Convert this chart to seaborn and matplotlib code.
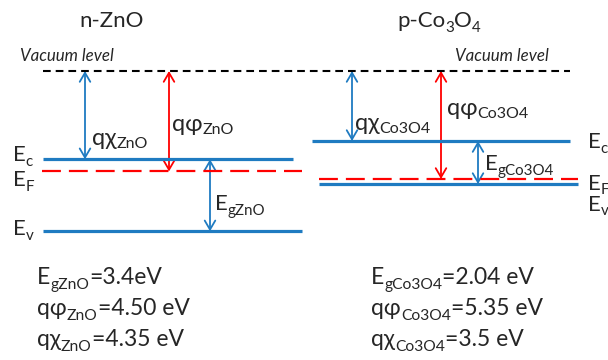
import matplotlib
matplotlib.use("Agg")
import matplotlib.pyplot as plt
import matplotlib.transforms as mtransforms
from matplotlib.patches import FancyArrowPatch
import seaborn as sns
import pandas as pd

# ---------------- data ----------------
materials = ["n-ZnO", "p-Co3O4"]
# schematic level energies relative to vacuum level (eV)
zno_levels = {"Ec": -4.35, "EF": -4.95, "Ev": -7.9}
co_levels = {"Ec": -3.45, "EF": -5.32, "Ev": -5.57}
vacuum = 0.0
# tabulated values
zno_values = ["3.4eV", "4.50 eV", "4.35 eV"]
co_values = ["2.04 eV", "5.35 eV", "3.5 eV"]

# ---------------- style ----------------
sns.set_theme(style="white")
FAM = ["Lato", "DejaVu Sans"]
plt.rcParams["font.family"] = FAM
BLUE = "#1f7bc1"
RED = "#ff0000"

PX = 20.3  # px per eV
fig = plt.figure(figsize=(6.08, 3.6), dpi=100)
ax = fig.add_axes([0, 0, 1, 1])
ax.set_xlim(0, 608)
ax.set_ylim(-(360 - 71) / PX, 71 / PX)
ax.axis("off")
renderer = fig.canvas.get_renderer()


def y_of(px):
    """convert reference pixel row to energy (for text layout only)"""
    return (71 - px) / PX


def level(x0, x1, e, color, lw, dashes=None):
    df = pd.DataFrame({"x": [x0, x1], "E": [e, e]})
    sns.lineplot(data=df, x="x", y="E", ax=ax, color=color, lw=lw,
                 estimator=None, sort=False)
    ln = ax.lines[-1]
    if dashes is not None:
        ln.set_dashes(dashes)
    ln.set_solid_capstyle("butt")
    ln.set_dash_capstyle("butt")


def arrow(x, e0, e1, color):
    a = FancyArrowPatch((x, e0), (x, e1), arrowstyle="<->,head_length=0.65,head_width=0.38",
                        mutation_scale=10, color=color, lw=1.3, shrinkA=0, shrinkB=0)
    ax.add_patch(a)


def label_chain(x, ypx, parts, size=14, style="normal", sub_scale=0.68, drop=5.0):
    """parts: list of (text, is_sub); drawn left to right from (x, baseline ypx)"""
    y = y_of(ypx)
    off = 0.0
    for txt, is_sub in parts:
        tr = mtransforms.offset_copy(ax.transData, fig=fig, x=off,
                                     y=(-drop * 72 / fig.dpi) if is_sub else 0, units="points")
        t = ax.text(x, y, txt, fontsize=size * (sub_scale if is_sub else 1.0), ha="left",
                    va="baseline", family=FAM, style=style, transform=tr)
        off += t.get_window_extent(renderer).width * 72 / fig.dpi


def label(x, ypx, base, sub="", size=14, style="normal", drop=5.0):
    parts = [(base, False)] + ([(sub, True)] if sub else [])
    label_chain(x, ypx, parts, size=size, style=style, drop=drop)


# ---------------- vacuum level ----------------
level(43, 570, vacuum, "black", 1.5, dashes=(3.7, 2.4))

# ---------------- ZnO ----------------
level(43, 293, zno_levels["Ec"], BLUE, 2.3)
level(42, 302, zno_levels["EF"], RED, 1.6, dashes=(8.5, 3.6))
level(43, 302, zno_levels["Ev"], BLUE, 2.3)
arrow(85, vacuum, zno_levels["Ec"], BLUE)
arrow(169, vacuum, zno_levels["EF"], RED)
arrow(210, zno_levels["Ec"], zno_levels["Ev"], BLUE)

# ---------------- Co3O4 ----------------
level(312, 570, co_levels["Ec"], BLUE, 2.3)
level(319, 578, co_levels["EF"], RED, 1.6, dashes=(8.5, 3.6))
level(319, 578, co_levels["Ev"], BLUE, 2.3)
arrow(352, vacuum, co_levels["Ec"], BLUE)
arrow(441, vacuum, co_levels["EF"], RED)
arrow(478, co_levels["Ec"], co_levels["Ev"], BLUE)

# ---------------- titles ----------------
label(79, 27, materials[0], size=16)
label_chain(397, 27, [("p-Co", False), ("3", True), ("O", False), ("4", True)], size=16)
label(20, 61, "Vacuum level", size=12.2, style="italic")
label(455, 61, "Vacuum level", size=12.2, style="italic")

# ---------------- level labels ----------------
label(13, 161, "E", "c", size=16, drop=5)
label(13, 186, "E", "F", size=16, drop=5)
label(13, 235, "E", "v", size=16, drop=5)
label(588, 148, "E", "c", size=16, drop=5)
label(588, 190, "E", "F", size=16, drop=4)
label(588, 211, "E", "v", size=16, drop=4)

# ---------------- arrow labels ----------------
label(92, 145, "qχ", "ZnO", size=17, drop=3)
label(172, 131, "qφ", "ZnO", size=17, drop=3)
label(215, 210, "E", "gZnO", size=16, drop=5)
label(355, 130, "qχ", "Co3O4", size=17, drop=3)
label(447, 115, "qφ", "Co3O4", size=17, drop=3)
label(485, 170, "E", "gCo3O4", size=16, drop=5)

# ---------------- value table ----------------
rows = [("E", "g"), ("qφ", ""), ("qχ", "")]
for i, (sym, g) in enumerate(rows):
    ypx = 284 + i * 31
    label_chain(37, ypx, [(sym, False), (g + "ZnO", True), ("=" + zno_values[i], False)],
                size=16.5)
    label_chain(371, ypx, [(sym, False), (g + "Co3O4", True), ("=" + co_values[i], False)],
                size=16.5)

fig.savefig("out.png", dpi=100)
